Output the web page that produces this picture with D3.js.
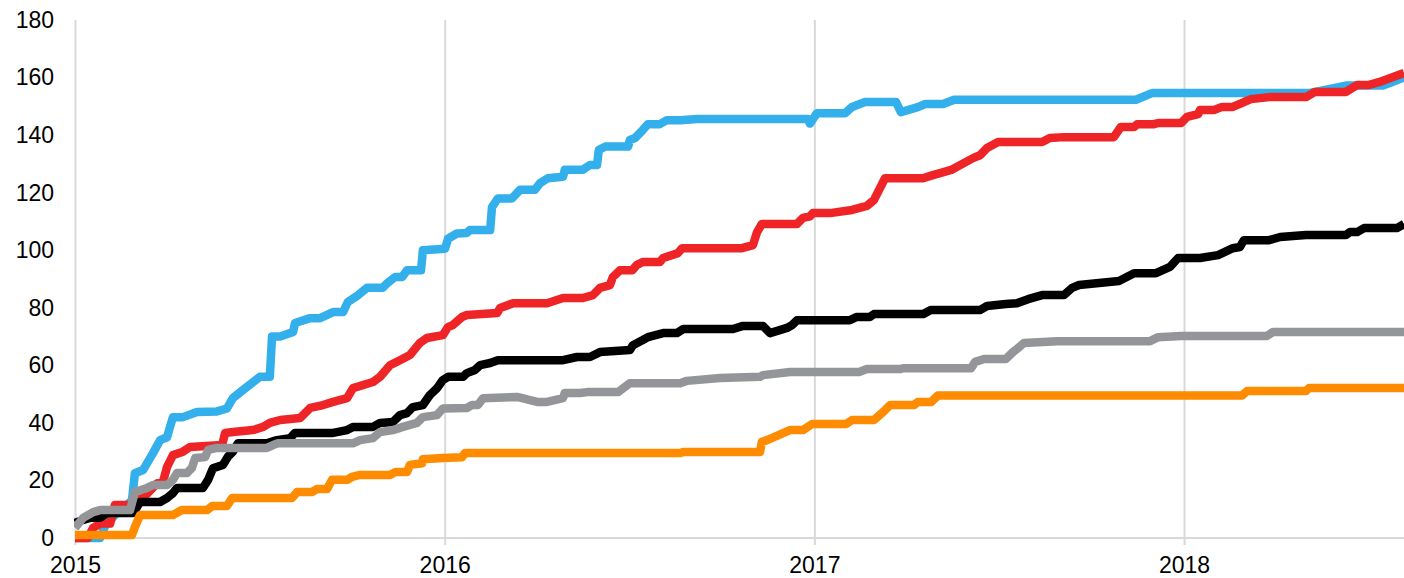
<!DOCTYPE html>
<html>
<head>
<meta charset="utf-8">
<script src="https://cdn.jsdelivr.net/npm/d3@7"></script>
<style>
  body { margin: 0; background: #fff; }
  svg { display: block; font-family: Arial, "Liberation Sans", sans-serif; }
</style>
</head>
<body>
<svg id="chart" width="1404" height="578"></svg>
<script>
// tick labels
const years = [2015, 2016, 2017, 2018];
const yTicks = [0, 20, 40, 60, 80, 100, 120, 140, 160, 180];

// cumulative series, [decimal year, value]
const blueSeries = [
  [2015.000, 0], [2015.068, 0], [2015.081, 4], [2015.108, 8], [2015.135, 11], [2015.154, 13],
  [2015.162, 22.5], [2015.184, 23.6], [2015.211, 29.5], [2015.230, 34], [2015.249, 35], [2015.257, 38.6],
  [2015.265, 42], [2015.292, 42], [2015.330, 43.8], [2015.384, 44], [2015.411, 45], [2015.427, 48.6],
  [2015.454, 51.4], [2015.500, 56], [2015.527, 56], [2015.533, 70], [2015.555, 70], [2015.590, 71.6],
  [2015.595, 74.7], [2015.636, 76.4], [2015.663, 76.4], [2015.698, 78.5], [2015.725, 78.5], [2015.738, 82],
  [2015.766, 84.4], [2015.790, 87], [2015.833, 87], [2015.844, 88.5], [2015.866, 90.7], [2015.885, 90.7],
  [2015.898, 93], [2015.936, 93], [2015.941, 100], [2016.001, 100.5], [2016.009, 104], [2016.033, 105.8],
  [2016.060, 106], [2016.068, 107], [2016.123, 107], [2016.128, 115], [2016.144, 118], [2016.182, 118],
  [2016.204, 121], [2016.244, 121], [2016.258, 123.3], [2016.279, 125], [2016.320, 125.5], [2016.325, 128],
  [2016.374, 128], [2016.393, 129.6], [2016.412, 129.6], [2016.417, 134.8], [2016.434, 136], [2016.496, 136],
  [2016.501, 138.3], [2016.515, 139], [2016.536, 141.8], [2016.550, 143.8], [2016.582, 143.8], [2016.601, 145.2],
  [2016.637, 145.2], [2016.683, 145.6], [2016.983, 145.6], [2016.988, 144], [2017.007, 147.6], [2017.083, 147.6],
  [2017.102, 149.8], [2017.137, 151.5], [2017.221, 151.5], [2017.234, 148], [2017.280, 149.7], [2017.299, 150.8],
  [2017.348, 150.8], [2017.378, 152.3], [2017.870, 152.3], [2017.913, 154.6], [2018.338, 154.6], [2018.438, 157.2],
  [2018.538, 157.2], [2018.595, 160]
];
const redSeries = [
  [2015.000, 0], [2015.035, 0], [2015.049, 3.5], [2015.068, 5], [2015.095, 5], [2015.108, 11.5],
  [2015.149, 11.5], [2015.168, 13.2], [2015.184, 13.9], [2015.222, 19], [2015.238, 19.5], [2015.249, 24.7],
  [2015.265, 28.8], [2015.292, 30], [2015.311, 31.6], [2015.398, 32.3], [2015.406, 36.5], [2015.427, 36.8],
  [2015.481, 37.5], [2015.509, 38.6], [2015.527, 40], [2015.555, 41], [2015.609, 41.7], [2015.636, 45.2],
  [2015.671, 46.2], [2015.698, 47.3], [2015.736, 48.6], [2015.752, 52.1], [2015.806, 54.2], [2015.825, 56],
  [2015.852, 60], [2015.879, 61.8], [2015.906, 63.6], [2015.933, 67.8], [2015.952, 69.5], [2015.995, 70.5],
  [2016.009, 73.3], [2016.022, 74], [2016.047, 76.8], [2016.060, 77.5], [2016.142, 78.2], [2016.150, 79.9],
  [2016.185, 81.6], [2016.277, 81.6], [2016.320, 83.4], [2016.374, 83.4], [2016.401, 84.4], [2016.420, 86.9],
  [2016.447, 87.9], [2016.455, 90.7], [2016.474, 93], [2016.507, 93], [2016.520, 94.9], [2016.536, 95.9],
  [2016.582, 95.9], [2016.591, 97.3], [2016.631, 99], [2016.642, 100.7], [2016.804, 100.7], [2016.834, 101.8],
  [2016.845, 106.3], [2016.858, 109.1], [2016.953, 109.1], [2016.969, 111.2], [2016.988, 111.8], [2016.996, 112.9],
  [2017.042, 112.9], [2017.102, 114], [2017.142, 115.4], [2017.161, 117.4], [2017.191, 125], [2017.294, 125],
  [2017.318, 126], [2017.340, 126.8], [2017.370, 127.9], [2017.429, 132], [2017.448, 133], [2017.467, 135.5],
  [2017.497, 137.6], [2017.616, 137.6], [2017.637, 139], [2017.675, 139.3], [2017.810, 139.3], [2017.829, 142.8],
  [2017.865, 142.8], [2017.873, 143.8], [2017.919, 143.8], [2017.930, 144.2], [2017.992, 144.2], [2018.008, 146.3],
  [2018.038, 147.3], [2018.043, 148.7], [2018.081, 148.7], [2018.103, 149.8], [2018.132, 149.8], [2018.162, 151.5],
  [2018.181, 152.5], [2018.230, 153.2], [2018.330, 153.2], [2018.354, 155], [2018.438, 155], [2018.468, 157.4],
  [2018.498, 157.4], [2018.527, 158.4], [2018.595, 161.6]
];
const blackSeries = [
  [2015.000, 5.2], [2015.022, 6.3], [2015.041, 7], [2015.068, 7], [2015.087, 8.7], [2015.157, 8.7],
  [2015.168, 10.8], [2015.176, 12.5], [2015.230, 12.5], [2015.249, 13.9], [2015.265, 15.6], [2015.276, 17.4],
  [2015.346, 17.4], [2015.360, 20.2], [2015.373, 24.2], [2015.400, 25.4], [2015.414, 28.3], [2015.427, 30],
  [2015.441, 32.9], [2015.519, 32.9], [2015.546, 34], [2015.582, 34.7], [2015.595, 36.5], [2015.698, 36.5],
  [2015.736, 37.5], [2015.752, 38.6], [2015.806, 38.6], [2015.825, 40], [2015.860, 40.3], [2015.879, 42.7],
  [2015.898, 43.4], [2015.914, 45.5], [2015.941, 46.2], [2015.960, 49.7], [2015.979, 52], [2015.995, 54.9],
  [2016.009, 56], [2016.050, 56], [2016.060, 57.3], [2016.082, 58.4], [2016.096, 60.1], [2016.123, 60.8],
  [2016.144, 61.8], [2016.320, 61.8], [2016.358, 62.9], [2016.393, 62.9], [2016.420, 64.6], [2016.501, 65.3],
  [2016.509, 67], [2016.536, 68.8], [2016.550, 69.8], [2016.591, 71.2], [2016.628, 71.2], [2016.645, 72.6],
  [2016.780, 72.6], [2016.807, 73.7], [2016.861, 73.7], [2016.880, 71.2], [2016.926, 73], [2016.940, 74],
  [2016.953, 75.7], [2017.096, 75.7], [2017.115, 76.8], [2017.150, 76.8], [2017.161, 77.8], [2017.294, 77.8],
  [2017.315, 79.2], [2017.448, 79.2], [2017.467, 80.6], [2017.518, 81.3], [2017.548, 81.6], [2017.578, 83],
  [2017.616, 84.4], [2017.675, 84.4], [2017.697, 86.9], [2017.716, 87.9], [2017.824, 89.3], [2017.865, 92],
  [2017.924, 92], [2017.962, 94.2], [2017.984, 97.3], [2018.043, 97.3], [2018.092, 98.3], [2018.132, 100.7],
  [2018.151, 101.1], [2018.162, 103.5], [2018.230, 103.5], [2018.260, 104.6], [2018.330, 105.3], [2018.438, 105.3],
  [2018.449, 106.3], [2018.468, 106.3], [2018.487, 107.7], [2018.576, 107.7], [2018.595, 109.1]
];
const graySeries = [
  [2015.000, 3.5], [2015.022, 7], [2015.049, 9], [2015.068, 9.7], [2015.149, 9.7], [2015.162, 16],
  [2015.195, 17.4], [2015.211, 18.4], [2015.249, 18.4], [2015.265, 20.2], [2015.276, 22.6], [2015.303, 22.6],
  [2015.316, 24.3], [2015.325, 27.8], [2015.352, 28.1], [2015.360, 30.6], [2015.384, 31.3], [2015.519, 31.3],
  [2015.536, 32.3], [2015.549, 32.9], [2015.752, 32.9], [2015.771, 34], [2015.806, 34.7], [2015.825, 36.8],
  [2015.860, 37.5], [2015.887, 38.6], [2015.925, 40], [2015.941, 42], [2015.979, 42.7], [2015.995, 45],
  [2016.060, 45.2], [2016.074, 46.2], [2016.090, 46.2], [2016.104, 48.6], [2016.196, 49], [2016.250, 47.3],
  [2016.277, 47.3], [2016.320, 48.6], [2016.325, 50.4], [2016.366, 50.4], [2016.385, 50.7], [2016.469, 50.7],
  [2016.501, 53.8], [2016.637, 53.8], [2016.655, 54.6], [2016.745, 55.6], [2016.853, 56], [2016.861, 56.6],
  [2016.934, 57.7], [2017.121, 57.7], [2017.142, 58.7], [2017.232, 58.7], [2017.240, 59], [2017.424, 59],
  [2017.435, 61.2], [2017.459, 62.2], [2017.518, 62.2], [2017.537, 64.6], [2017.551, 66], [2017.567, 67.8],
  [2017.656, 68.4], [2017.908, 68.4], [2017.930, 69.8], [2017.992, 70.2], [2018.224, 70.2], [2018.241, 71.6],
  [2018.595, 71.6]
];
const orangeSeries = [
  [2015.000, 1], [2015.154, 1], [2015.162, 3.8], [2015.176, 8], [2015.265, 8], [2015.289, 9.7],
  [2015.357, 9.7], [2015.371, 11.1], [2015.411, 11.1], [2015.425, 13.9], [2015.587, 13.9], [2015.601, 16],
  [2015.641, 16], [2015.655, 17], [2015.682, 17], [2015.695, 20.2], [2015.736, 20.2], [2015.749, 21.2],
  [2015.771, 21.9], [2015.852, 21.9], [2015.866, 22.9], [2015.898, 22.9], [2015.906, 25.4], [2015.939, 26],
  [2015.941, 27.4], [2015.995, 27.8], [2016.047, 28.1], [2016.055, 29.5], [2016.637, 29.5], [2016.645, 29.9],
  [2016.853, 29.9], [2016.858, 33.4], [2016.872, 34], [2016.934, 37.5], [2016.969, 37.5], [2016.994, 39.6],
  [2017.086, 39.6], [2017.102, 41], [2017.161, 41], [2017.186, 43.8], [2017.205, 46.2], [2017.270, 46.2],
  [2017.280, 47.3], [2017.316, 47.3], [2017.334, 49.5], [2018.157, 49.5], [2018.171, 51.1], [2018.330, 51.1],
  [2018.338, 52.1], [2018.595, 52.1]
];

const seriesList = [
  {data: blueSeries, color: '#33afec'},
  {data: redSeries, color: '#ee2426'},
  {data: blackSeries, color: '#000000'},
  {data: graySeries, color: '#939598'},
  {data: orangeSeries, color: '#ff8b00'}
];

const width = 1404;
const height = 578;
const margin = {top: 20, right: 0, bottom: 40, left: 75};

const svg = d3.select('#chart');

const x = d3.scaleLinear()
  .domain([2015, 2018.595])
  .range([margin.left, width - margin.right]);

const y = d3.scaleLinear()
  .domain([0, 180])
  .range([height - margin.bottom, margin.top]);

// vertical year gridlines + year labels
const xAxis = g => g
  .attr('transform', `translate(0,${y(0) + 7})`)
  .call(d3.axisBottom(x).tickValues(years).tickFormat(d3.format('d'))
    .tickSize(-(y(0) + 7 - margin.top)).tickPadding(12))
  .call(g => g.select('.domain').remove())
  .call(g => g.selectAll('.tick line').attr('stroke', '#d9d9d9').attr('stroke-width', 2))
  .call(g => g.selectAll('.tick text').attr('fill', '#000').style('font-size', '23px'));

const yAxis = g => g
  .attr('transform', `translate(${margin.left},0)`)
  .call(d3.axisLeft(y).tickValues(yTicks).tickSize(0).tickPadding(21))
  .call(g => g.select('.domain').remove())
  .call(g => g.selectAll('.tick text').attr('fill', '#000').style('font-size', '23px'));

svg.append('g').call(xAxis);

// baseline
svg.append('line')
  .attr('x1', margin.left).attr('x2', width - margin.right)
  .attr('y1', y(0)).attr('y2', y(0))
  .attr('stroke', '#d9d9d9').attr('stroke-width', 2);

svg.append('g').call(yAxis);

svg.append('clipPath').attr('id', 'plot-clip')
  .append('rect')
  .attr('x', margin.left - 1).attr('y', 0)
  .attr('width', width - margin.left + 1).attr('height', height);

const line = d3.line()
  .x(d => x(d[0]))
  .y(d => y(d[1]));

svg.append('g')
  .attr('clip-path', 'url(#plot-clip)')
  .selectAll('path')
  .data(seriesList)
  .join('path')
  .attr('fill', 'none')
  .attr('stroke', d => d.color)
  .attr('stroke-width', 8.5)
  .attr('stroke-linejoin', 'round')
  .attr('d', d => line(d.data));
</script>
</body>
</html>
